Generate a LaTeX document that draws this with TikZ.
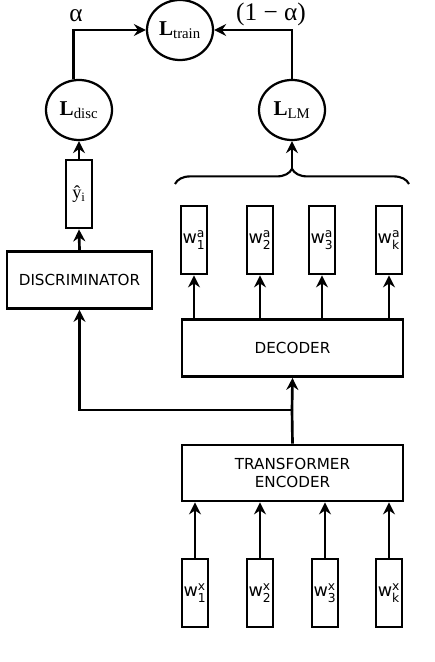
\documentclass[tikz,border=0pt]{standalone}
\usepackage{amsmath}
\usepackage{fontspec}
\setmainfont{DejaVu Sans}
\newfontfamily\lossfont{Liberation Serif}
\usetikzlibrary{arrows.meta,shapes.geometric,decorations.pathreplacing}
\def\wordw{6.5mm}
\newcommand{\wsym}[2]{w$^{\text{#1}}_{\text{#2}}$}
\newcommand{\lossname}[1]{\textbf{L}$_{\text{#1}}$}
\tikzset{
  block/.style={draw, rectangle, line width=2pt, inner sep=1pt, align=center,
    font=\fontsize{10.8}{13}\selectfont},
  word/.style={block, minimum width=\wordw, minimum height=17mm, inner sep=0pt,
    font=\fontsize{12.5}{13}\selectfont},
  loss/.style={draw, ellipse, line width=1.6pt, inner sep=0pt,
    minimum width=16.5mm, minimum height=15mm, font=\lossfont\fontsize{15}{16}\selectfont},
  weight/.style={anchor=base, inner sep=0pt, font=\lossfont\fontsize{18}{20}\selectfont}
}

\begin{document}
\begin{tikzpicture}[x=0.25mm, y=-0.25mm, >={Stealth[length=3mm,width=3mm,inset=1mm]}, line width=1.9pt]
\useasboundingbox (0,0) rectangle (434,662);

% losses
\node[loss] (ltrain) at (180,30) {\lossname{train}};
\node[loss] (ldisc) at (79,110) {\lossname{disc}};
\node[loss] (llm) at (292,110) {\lossname{LM}};
\node[weight] (alpha) at (76,22) {α};
\node[weight] (oneminus) at (271,21) {(1 − α)};

% discriminator side
\node[block, minimum width=6.5mm, minimum height=17mm, inner sep=0pt,
  font=\lossfont\fontsize{13}{14}\selectfont] (yhat) at (79,194) {ŷ\textsubscript{i}};
\node[block, minimum width=36.25mm, minimum height=14.25mm] (disc) at (79.5,280) {DISCRIMINATOR};

% decoder outputs
\node[word] (a1) at (194,240) {\wsym{a}{1}};
\node[word] (a2) at (260,240) {\wsym{a}{2}};
\node[word] (a3) at (322,240) {\wsym{a}{3}};
\node[word] (a4) at (389,240) {\wsym{a}{k}};
\node[block, minimum width=55.25mm, minimum height=14.25mm] (dec) at (292.5,348) {DECODER};

% encoder and inputs
\node[block, minimum width=55.25mm, minimum height=14mm] (enc) at (292.5,473) {TRANSFORMER\\ENCODER};
\node[word] (x1) at (195,593) {\wsym{x}{1}};
\node[word] (x2) at (260,593) {\wsym{x}{2}};
\node[word] (x3) at (325,593) {\wsym{x}{3}};
\node[word] (x4) at (389,593) {\wsym{x}{k}};

\coordinate (brtip) at (292,168);
\coordinate (split) at (292,410);

\draw[->] (ldisc.100) |- (ltrain.west);
\draw[->, line width=1.5pt] (llm.north) |- (ltrain.east);
\draw[->] (yhat.north) -- (ldisc.south);
\draw[->] (disc.north) -- (yhat.south);
\draw[line width=1.5pt, decorate, decoration={brace, amplitude=3.8mm}] (175,184) -- (409,184);
\draw[->, line width=1.5pt] (brtip) -- (llm.south);

\draw[->, line width=1.5pt] (a1 |- dec.north) -- (a1.south);
\draw[->, line width=1.5pt] (a2 |- dec.north) -- (a2.south);
\draw[->, line width=1.5pt] (a3 |- dec.north) -- (a3.south);
\draw[->, line width=1.5pt] (a4 |- dec.north) -- (a4.south);

\draw (enc.north) -- (split);
\draw[->] (split) -- (dec.south);
\draw[->] (split) -| (disc.south);

\draw[->] (x1.north) -- (x1 |- enc.south);
\draw[->] (x2.north) -- (x2 |- enc.south);
\draw[->] (x3.north) -- (x3 |- enc.south);
\draw[->] (x4.north) -- (x4 |- enc.south);
\end{tikzpicture}
\end{document}
